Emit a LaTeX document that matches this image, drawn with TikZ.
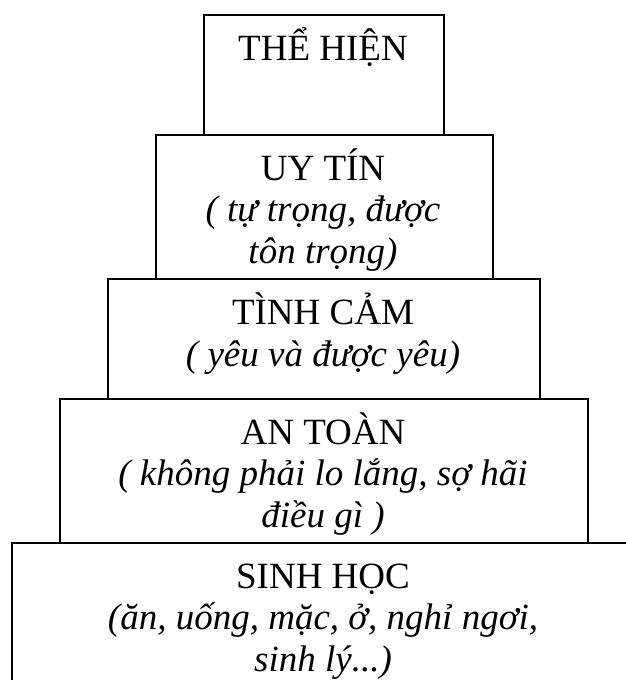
\documentclass[tikz,border=0pt]{standalone}
\usepackage{fontspec}
\setmainfont{Liberation Serif}
\begin{document}
\begin{tikzpicture}[x=1pt,y=-1pt,
  tier/.style={draw=black, line width=1.8pt, fill=white, rectangle,
    inner sep=0pt, anchor=north west},
  head/.style={anchor=base, inner sep=0pt, font=\fontsize{37}{42}\selectfont},
  note/.style={anchor=base, inner sep=0pt, font=\fontsize{37}{42}\selectfont\itshape}]
\useasboundingbox (0,0) rectangle (626,680);
\clip (0,0) rectangle (626,680);

% top tier
\node[tier, minimum width=240pt, minimum height=120pt] (b1) at (203,14) {};
\node[head] (h1) at (323,60) {THỂ HIỆN};

% esteem
\node[tier, minimum width=337pt, minimum height=144pt] (b2) at (155,134) {};
\node[head] (h2) at (323,180) {UY TÍN};
\node[note] (n2a) at (323,221) {( tự trọng, được};
\node[note] (n2b) at (323,263) {tôn trọng)};

% belonging
\node[tier, minimum width=432pt, minimum height=120pt] (b3) at (107,278) {};
\node[head] (h3) at (323,324) {TÌNH CẢM};
\node[note] (n3a) at (323,366) {( yêu và được yêu)};

% safety
\node[tier, minimum width=528pt, minimum height=144pt] (b4) at (59,398) {};
\node[head] (h4) at (323,444) {AN TOÀN};
\node[note] (n4a) at (323,485) {( không phải lo lắng, sợ hãi};
\node[note] (n4b) at (323,527) {điều gì )};

% physiological
\node[tier, minimum width=624pt, minimum height=160pt] (b5) at (11,542) {};
\node[head] (h5) at (323,588) {SINH HỌC};
\node[note] (n5a) at (323,629) {(ăn, uống, mặc, ở, nghỉ ngơi,};
\node[note] (n5b) at (323,671) {sinh lý...)};
\end{tikzpicture}
\end{document}
